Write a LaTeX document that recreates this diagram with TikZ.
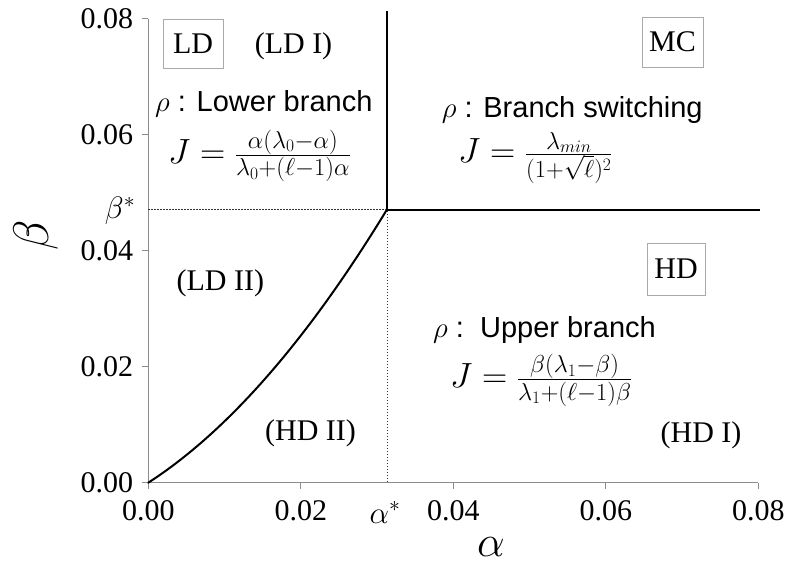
\RequirePackage{fix-cm}
\documentclass[tikz,border=0pt]{standalone}
\usepackage{fontspec}
\setmainfont{Liberation Serif}
\newfontfamily\sansf{Liberation Sans}
\definecolor{axisgray}{HTML}{8C8C8C}
\definecolor{boxgray}{HTML}{AAAAAA}
\begin{document}
\begin{tikzpicture}[x=1pt,y=1pt,
  axis/.style={draw=axisgray, line width=1pt},
  boundary/.style={draw=black, line width=2pt},
  guide/.style={draw=black!80, line width=0.9pt, dash pattern=on 1.5pt off 1.5pt},
  ticklabel/.style={font=\fontsize{30}{36}\selectfont, inner sep=0pt},
  regbox/.style={draw=boxgray, line width=0.9pt, inner sep=0pt, text depth=0pt, font=\fontsize{30}{36}\selectfont},
  region/.style={font=\fontsize{30}{36}\selectfont, inner sep=0pt},
  phase/.style={font=\sansf\fontsize{29}{34}\selectfont, inner sep=0pt, anchor=base west},
  current/.style={font=\fontsize{35}{42}\selectfont, inner sep=0pt, anchor=base west},
  starlabel/.style={font=\fontsize{31}{36}\selectfont, inner sep=0pt, anchor=base}
]
\useasboundingbox (0,0) rectangle (791,564);
\begin{scope}[shift={(148.3,81.3)}, x=76.25pt, y=58pt]
  \coordinate (O) at (0,0);
  \coordinate (xend) at (8,0);
  \coordinate (yend) at (0,8);
  \coordinate (C) at (3.13,4.71);
  \coordinate (Ctop) at (3.13,8.13);
  \coordinate (Cright) at (8.02,4.71);
  \coordinate (Cx) at (3.13,0);
  \coordinate (Cy) at (0,4.71);
  \draw[axis] (yend) -- (O) -- (xend);
  \foreach \t/\l in {0/0.00,2/0.02,4/0.04,6/0.06,8/0.08} {
    \draw[axis] (\t,0) -- ++(0,-6pt);
    \draw[axis] (0,\t) -- ++(-6pt,0);
    \path (\t,0) ++(0,-18pt) node[ticklabel, anchor=north] (xl\t) {\l};
    \path (0,\t) ++(-15pt,0) node[ticklabel, anchor=east] (yl\t) {\l};
  }
  \draw[guide] (Cy) -- (C) -- (Cx);
  \draw[boundary] (Ctop) -- (C) -- (Cright);
  \draw[boundary, line cap=round, domain=0:3.13, samples=60, smooth] plot (\x, {0.85*\x+0.2092*\x*\x});
\end{scope}

% axis labels
\node[inner sep=0pt, font=\fontsize{44}{50}\selectfont] (alab) at (491,16.5) {$\alpha$};
\node[inner sep=0pt, font=\fontsize{50}{56}\selectfont, rotate=90] (blab) at (36,329) {$\beta$};
\node[starlabel] (astar) at (385,41) {$\alpha^{*}$};
\node[starlabel] (bstar) at (120,345) {$\beta^{*}$};

% phase boxes
\node[regbox, minimum width=60pt, minimum height=49pt] (LD) at (193,520.4) {LD};
\node[regbox, minimum width=61pt, minimum height=50pt] (MC) at (672.5,522) {MC};
\node[regbox, minimum width=58pt, minimum height=52pt] (HD) at (676,295) {HD};

% sub-region labels
\node[region, anchor=base] (LDI) at (293.5,510.4) {(LD I)};
\node[region] (LDII) at (220.3,280.7) {(LD II)};
\node[region] (HDII) at (310.5,130.7) {(HD II)};
\node[region] (HDI) at (701,129) {(HD I)};

% densities and currents
\node[phase] (rlow) at (155,452.3) {$\rho$ : Lower branch};
\node[current] (jlow) at (168,400.3) {$J=\frac{\alpha(\lambda_0-\alpha)}{\lambda_0+(\ell-1)\alpha}$};
\node[phase] (rmc) at (441.7,446.7) {$\rho$ : Branch switching};
\node[current] (jmc) at (458,401) {$J=\frac{\lambda_{min}}{(1+\sqrt{\ell})^2}$};
\node[phase] (rup) at (433,226.7) {$\rho$ :\ \ Upper branch};
\node[current] (jup) at (450,176) {$J=\frac{\beta(\lambda_1-\beta)}{\lambda_1+(\ell-1)\beta}$};
\end{tikzpicture}
\end{document}
